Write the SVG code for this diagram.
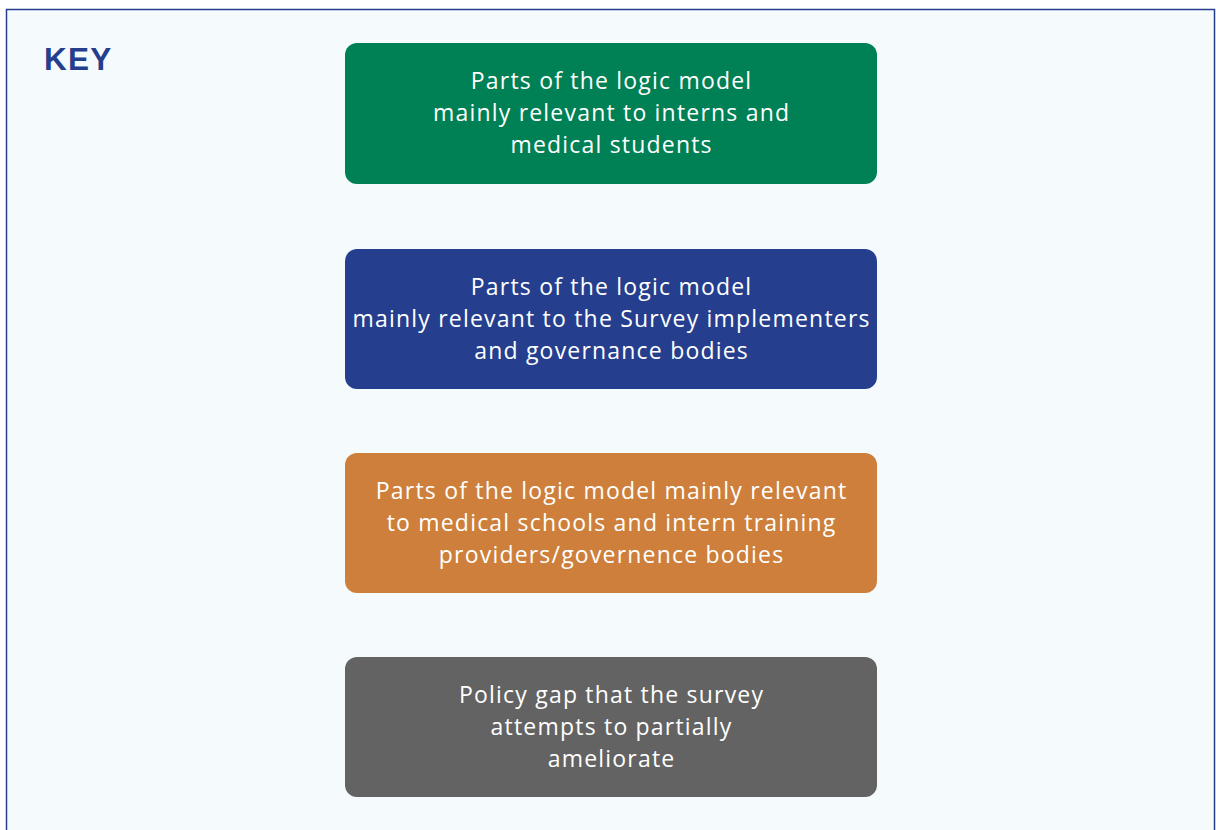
<svg xmlns="http://www.w3.org/2000/svg" width="1216" height="830" viewBox="0 0 1216 830">
<style>
.box text{font-family:"Open Sans","Liberation Sans",sans-serif;font-size:23px;letter-spacing:1.2px;fill:#ffffff;text-anchor:middle;}
.key{font-family:"Liberation Sans",Arial,sans-serif;font-weight:bold;font-size:31.5px;letter-spacing:1.2px;fill:#253f8e;}
</style>
<rect x="0" y="0" width="1216" height="830" fill="#ffffff"/>
<rect x="6.5" y="9.5" width="1208" height="840" fill="#f5fafd" stroke="#253f8e" stroke-width="1.5"/>
<text class="key" x="44" y="70">KEY</text>
<g id="node-green" class="box">
<rect x="345" y="43" width="532" height="141" rx="12" fill="#008055"/>
<text x="611.6" y="89">Parts of the logic model</text>
<text x="611.6" y="121">mainly relevant to interns and</text>
<text x="611.6" y="153">medical students</text>
</g>
<g id="node-blue" class="box">
<rect x="345" y="249" width="532" height="140" rx="12" fill="#253f8e"/>
<text x="611.6" y="295">Parts of the logic model</text>
<text x="611.6" y="327">mainly relevant to the Survey implementers</text>
<text x="611.6" y="359">and governance bodies</text>
</g>
<g id="node-orange" class="box">
<rect x="345" y="453" width="532" height="140" rx="12" fill="#cd7f3b"/>
<text x="611.6" y="499">Parts of the logic model mainly relevant</text>
<text x="611.6" y="531">to medical schools and intern training</text>
<text x="611.6" y="563">providers/governence bodies</text>
</g>
<g id="node-gray" class="box">
<rect x="345" y="657" width="532" height="140" rx="12" fill="#636363"/>
<text x="611.6" y="703">Policy gap that the survey</text>
<text x="611.6" y="735">attempts to partially</text>
<text x="611.6" y="767">ameliorate</text>
</g>
<g id="connectors"></g>
</svg>
